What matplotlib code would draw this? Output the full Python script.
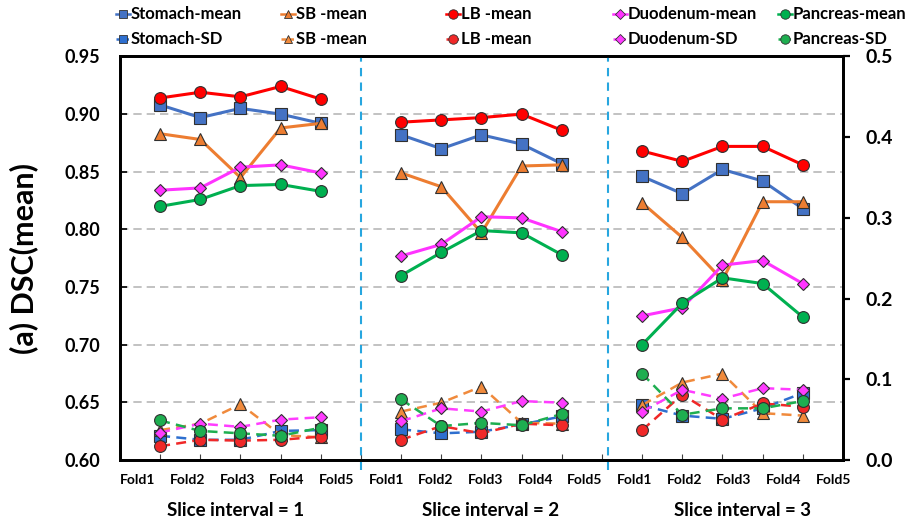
import numpy as np
import matplotlib.pyplot as plt
from matplotlib.lines import Line2D

plt.rcParams['font.family'] = ['Lato', 'DejaVu Sans']
plt.rcParams['font.weight'] = 'bold'

folds = ['Fold1', 'Fold2', 'Fold3', 'Fold4', 'Fold5']
intervals = ['Slice interval = 1', 'Slice interval = 2', 'Slice interval = 3']

# DSC mean per fold, interval 1 | 2 | 3
stomach_mean = [0.908, 0.897, 0.905, 0.900, 0.892,
                0.882, 0.870, 0.882, 0.874, 0.857,
                0.846, 0.831, 0.852, 0.842, 0.818]
sb_mean = [0.883, 0.878, 0.845, 0.888, 0.892,
           0.849, 0.837, 0.797, 0.855, 0.856,
           0.823, 0.793, 0.756, 0.824, 0.824]
lb_mean = [0.914, 0.919, 0.915, 0.924, 0.913,
           0.893, 0.895, 0.897, 0.900, 0.886,
           0.868, 0.859, 0.872, 0.872, 0.856]
duo_mean = [0.834, 0.836, 0.854, 0.856, 0.849,
            0.777, 0.787, 0.811, 0.810, 0.798,
            0.725, 0.732, 0.769, 0.773, 0.753]
pan_mean = [0.820, 0.826, 0.838, 0.839, 0.833,
            0.760, 0.780, 0.799, 0.797, 0.778,
            0.700, 0.736, 0.758, 0.753, 0.724]

# DSC standard deviation per fold (right axis)
stomach_sd = [0.030, 0.025, 0.025, 0.036, 0.037,
              0.038, 0.033, 0.035, 0.044, 0.054,
              0.068, 0.055, 0.051, 0.064, 0.083]
sb_sd = [0.037, 0.045, 0.069, 0.031, 0.028,
         0.060, 0.071, 0.091, 0.046, 0.045,
         0.068, 0.096, 0.107, 0.058, 0.055]
lb_sd = [0.017, 0.025, 0.024, 0.025, 0.029,
         0.025, 0.042, 0.033, 0.045, 0.043,
         0.037, 0.081, 0.050, 0.070, 0.066]
duo_sd = [0.034, 0.045, 0.041, 0.050, 0.053,
          0.048, 0.064, 0.060, 0.073, 0.071,
          0.060, 0.087, 0.076, 0.089, 0.087]
pan_sd = [0.049, 0.036, 0.033, 0.030, 0.040,
          0.075, 0.042, 0.046, 0.043, 0.057,
          0.107, 0.056, 0.064, 0.064, 0.073]

mean_series = [('Stomach-mean', stomach_mean, '#4472C4', 's'),
               ('SB -mean', sb_mean, '#ED7D31', '^'),
               ('LB -mean', lb_mean, '#FF0000', 'o'),
               ('Duodenum-mean', duo_mean, '#FF33FF', 'D'),
               ('Pancreas-mean', pan_mean, '#00B050', 'o')]
sd_series = [('Stomach-SD', stomach_sd, '#2E6FCF', 's'),
             ('SB -mean', sb_sd, '#F08A3C', '^'),
             ('LB -mean', lb_sd, '#F02828', 'o'),
             ('Duodenum-SD', duo_sd, '#FF3CFF', 'D'),
             ('Pancreas-SD', pan_sd, '#1EAE50', 'o')]

fig = plt.figure(figsize=(9.13, 5.23), dpi=100)
ax = fig.add_axes([0.1314, 0.1205, 0.7919, 0.7715])
ax2 = ax.twinx()

msize = {'s': 8, '^': 8, 'o': 8.5, 'D': 6.5}

def segments(vals):
    # one line per slice interval, five folds each
    for g in range(3):
        xs = np.arange(5) + 6 * g
        yield xs, vals[5 * g:5 * g + 5]

for name, vals, col, mk in mean_series:
    for xs, ys in segments(vals):
        ax.plot(xs, ys, color=col, lw=2.2, marker=mk, ms=msize[mk],
                mfc=col, mec='#303030', mew=0.8, zorder=4)

for name, vals, col, mk in sd_series:
    for xs, ys in segments(vals):
        ax2.plot(xs, ys, color=col, lw=1.8, ls=(0, (4, 2.5)), marker=mk,
                 ms=msize[mk], mfc=col, mec='#303030', mew=0.8, zorder=4)

ax.set_xlim(-1, 17)
ax.set_ylim(0.60, 0.95)
ax.set_yticks(np.arange(0.60, 0.951, 0.05))
ax.set_yticklabels(['%.2f' % v for v in np.arange(0.60, 0.951, 0.05)],
                   fontsize=13, fontweight='bold')
ax.yaxis.grid(True, color='#B8B8B8', ls=(0, (5, 3)), lw=1.2)
ax.set_axisbelow(True)
ax.tick_params(axis='y', direction='in', length=5, width=1.2, pad=14)
ax.set_xticks(np.arange(0, 17))
ax.set_xticklabels([])
ax.tick_params(axis='x', direction='in', length=4, width=0.8, color='#404040')

ax2.set_ylim(0, 0.5)
ax2.set_yticks(np.arange(0, 0.51, 0.1))
ax2.set_yticklabels(['%.1f' % v for v in np.arange(0, 0.51, 0.1)],
                    fontsize=14, fontweight='bold')
ax2.tick_params(axis='y', direction='out', length=5, width=1.6, pad=11)

for a in (ax, ax2):
    for sp in a.spines.values():
        sp.set_linewidth(2)
        sp.set_color('black')

ax.set_ylabel('(a) DSC(mean)', fontsize=22, fontweight='bold', labelpad=19)

# separators between slice intervals
for xv in (5, 11.15):
    ax.plot([xv, xv], [-0.025, 1], transform=ax.get_xaxis_transform(),
            color='#27A6DF', lw=1.5, ls=(0, (4, 3)), clip_on=False, zorder=5)

# fold labels spread evenly under the axis
for k in range(15):
    ax.text(-0.55 + 1.236 * k, -0.05, folds[k % 5], transform=ax.get_xaxis_transform(),
            ha='center', va='center', fontsize=10, fontweight='bold')

for xc, lab in zip((1.87, 8.23, 14.49), intervals):
    ax.text(xc, -0.124, lab, transform=ax.get_xaxis_transform(),
            ha='center', va='center', fontsize=13.5, fontweight='bold')

# legend rows drawn in figure pixels
W, H = 913, 523
leg_x = [123, 288, 453, 620, 785]
for row_y, series, ls in ((14, mean_series, '-'), (39, sd_series, (0, (2, 1)))):
    for px, (name, vals, col, mk) in zip(leg_x, series):
        fy = 1 - row_y / H
        fig.add_artist(Line2D([(px - 7) / W, (px + 7) / W], [fy, fy], color=col,
                              lw=1.8, ls=ls, transform=fig.transFigure))
        fig.add_artist(Line2D([px / W], [fy], marker=mk, ms=msize[mk] * 0.8,
                              mfc=col, mec='#303030', mew=0.6, color=col,
                              transform=fig.transFigure))
        fig.text((px + 8) / W, fy, name, ha='left', va='center',
                 fontsize=12, fontweight='bold')

fig.savefig('out.png', dpi=100)
